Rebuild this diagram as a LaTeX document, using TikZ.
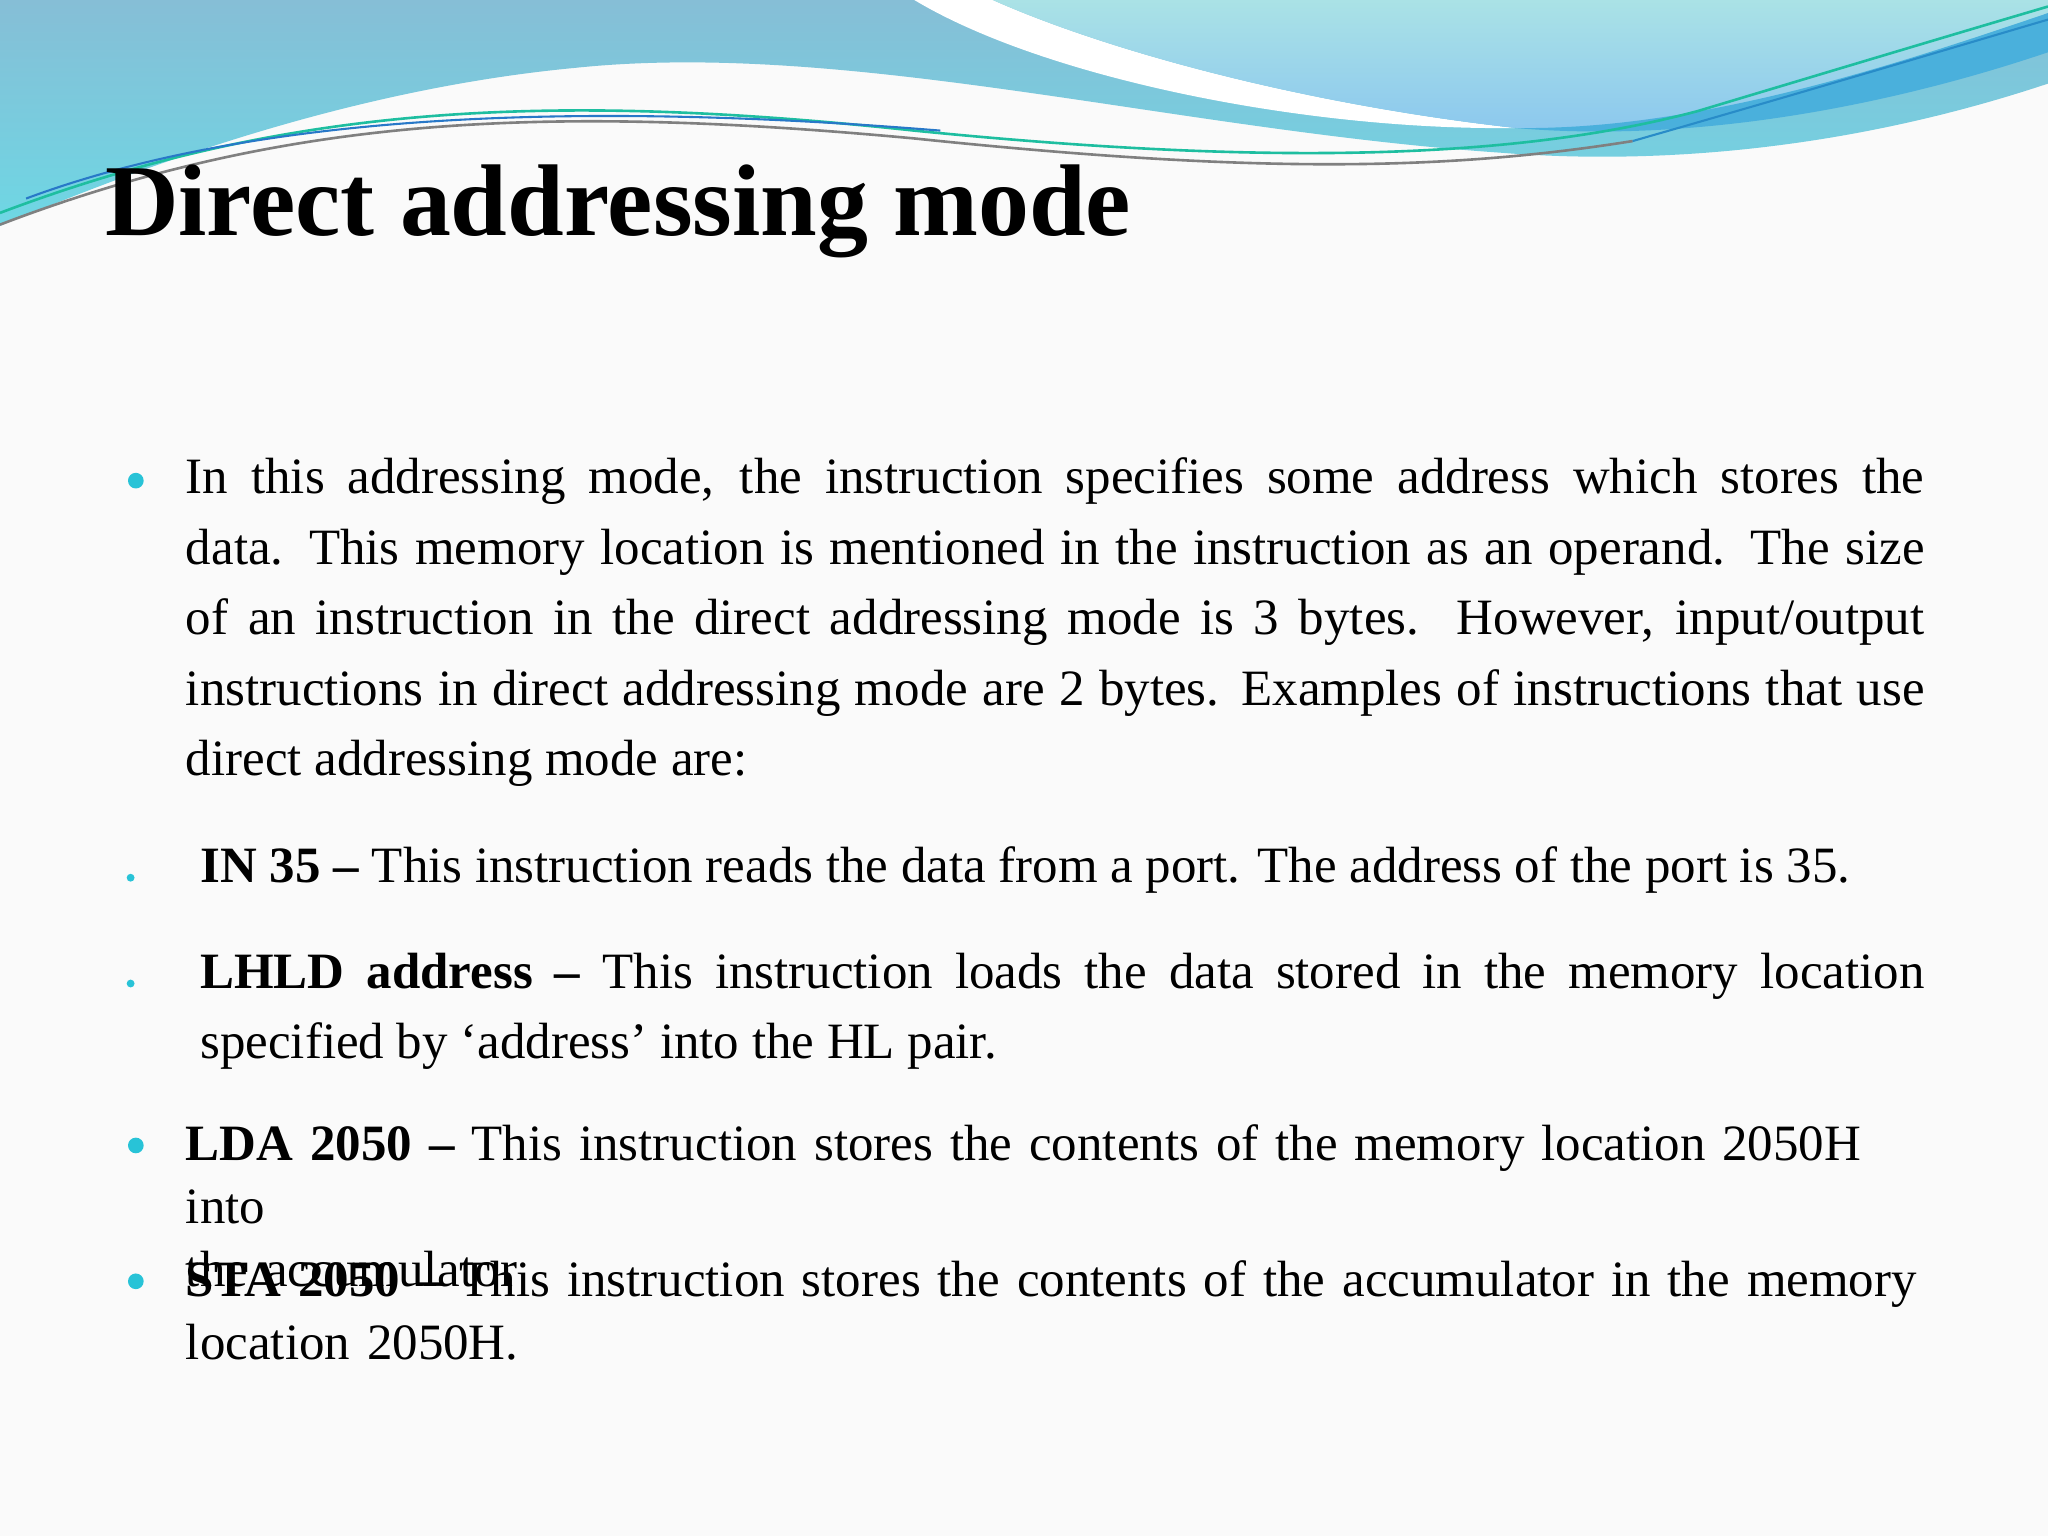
\documentclass[tikz,border=0pt]{standalone}
\usepackage{fontspec}
\setmainfont{Liberation Serif}
\definecolor{hdA}{RGB}{134,190,214}
\definecolor{hdB}{RGB}{110,215,228}
\definecolor{hdC}{RGB}{170,226,230}
\definecolor{hdD}{RGB}{140,200,238}
\definecolor{hdE}{RGB}{74,176,220}
\definecolor{lnG}{RGB}{30,190,160}
\definecolor{lnB}{RGB}{40,120,200}
\definecolor{lnC}{RGB}{40,140,200}
\definecolor{dotc}{RGB}{40,195,215}
\begin{document}
\begin{tikzpicture}[x=0.5pt,y=-0.5pt,
  body/.style={anchor=north west,inner sep=0pt,font=\fontsize{19.5}{27}\selectfont},
  bigdot/.style={fill=dotc,draw=none,circle,minimum size=6pt,inner sep=0pt},
  smalldot/.style={fill=dotc,draw=none,circle,minimum size=3pt,inner sep=0pt}]
\fill[white!96!gray] (0,0) rectangle (1568,1176);
\useasboundingbox (0,0) rectangle (1568,1176);
% header waves
\shade[top color=hdA,bottom color=hdB]
 (0,0)--(1568,0)--(1568,64) .. controls (1400,120) and (1250,125) .. (1150,117)
 .. controls (900,100) and (650,30) .. (440,52) .. controls (250,70) and (80,140) .. (0,173) -- cycle;
\fill[white] (700,0)--(760,0) .. controls (850,40) and (1000,80) .. (1160,98)
 .. controls (1000,100) and (800,60) .. (700,0) -- cycle;
\shade[top color=hdC,bottom color=hdD]
 (760,0)--(1568,0)--(1568,10) .. controls (1450,60) and (1300,100) .. (1160,98)
 .. controls (1000,80) and (850,40) .. (760,0) -- cycle;
\fill[hdE] (1160,98) .. controls (1300,100) and (1450,50) .. (1568,10)
 -- (1568,40) .. controls (1450,80) and (1300,110) .. (1160,98) -- cycle;
\draw[lnG,line width=1pt] (0,163) .. controls (220,80) and (420,70) .. (700,100) .. controls (950,125) and (1150,125) .. (1300,85) .. controls (1400,55) and (1500,25) .. (1568,5);
\draw[gray,line width=1pt] (0,172) .. controls (220,88) and (420,80) .. (700,106) .. controls (950,132) and (1100,132) .. (1250,108);
\draw[lnB,line width=0.8pt] (20,152) .. controls (200,85) and (450,78) .. (720,100);
\draw[lnC,line width=0.8pt] (1250,108) .. controls (1400,65) and (1500,35) .. (1568,15);
% title
\node[anchor=base west,inner sep=0pt,font=\fontsize{39}{42}\selectfont\bfseries] (title) at (80,180) {Direct addressing mode};
% paragraph
\node[bigdot] (d1) at (104,368) {};
\node[body,text width=665.5pt,align=justify] (p1) at (142,350) {In this addressing mode, the instruction specifies some address which stores the\linebreak data. This memory location is mentioned in the instruction as an operand. The size\linebreak of an instruction in the direct addressing mode is 3 bytes. However, input/output\linebreak instructions in direct addressing mode are 2 bytes. Examples of instructions that use\linebreak direct addressing mode are:};
\node[smalldot] (d2) at (100,672) {};
\node[body] (p2) at (153,648) {\textbf{IN 35 –} This instruction reads the data from a port. The address of the port is 35.};
\node[smalldot] (d3) at (100,753) {};
\node[body,text width=660pt,align=justify] (p3) at (153,729) {\textbf{LHLD address –} This instruction loads the data stored in the memory location\linebreak specified by ‘address’ into the HL pair.};
\node[bigdot] (d4) at (104,877) {};
\node[body,text width=672pt,align=left,font=\fontsize{19.5}{24}\selectfont] (p4) at (142,861) {\textbf{LDA 2050 –} This instruction stores the contents of the memory location 2050H into\\ the accumulator};
\node[bigdot] (d5) at (104,981) {};
\node[body,text width=672pt,align=left,font=\fontsize{19.5}{24}\selectfont] (p5) at (142,965) {\textbf{STA 2050 –} This instruction stores the contents of the accumulator in the memory\\ location 2050H.};
\end{tikzpicture}
\end{document}
